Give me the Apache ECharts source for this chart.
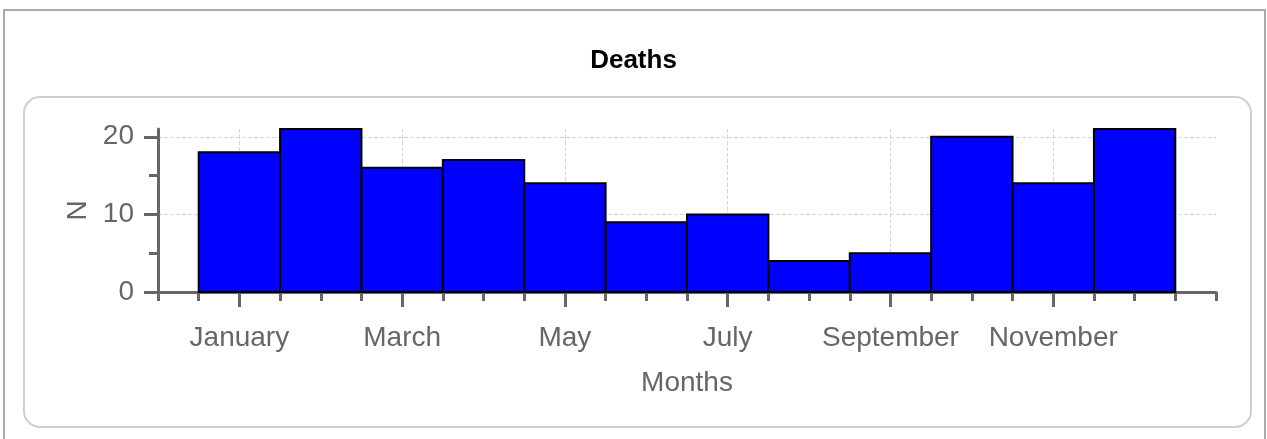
<!DOCTYPE html>
<html>
<head>
<meta charset="utf-8">
<style>
  html, body { margin: 0; padding: 0; background: #fff; }
  #chart { width: 1267px; height: 439px; }
</style>
<script src="https://cdn.jsdelivr.net/npm/echarts@6/dist/echarts.min.js"></script>
</head>
<body>
<div id="chart"></div>
<script>
// data
var months = ["January", "February", "March", "April", "May", "June",
  "July", "August", "September", "October", "November", "December"];
var deaths = [18, 21, 16, 17, 14, 9, 10, 4, 5, 20, 14, 21];
var xLabelTicks = [1, 3, 5, 7, 9, 11];
var yMinorTicks = [0, 5, 10, 15, 20];
var yMajorTicks = [0, 10, 20];

(function() {
  var myChart = echarts.init(document.getElementById("chart"));
  var font = "Liberation Sans, Arial, sans-serif";
  var grey = "#666";

  var barData = [];
  for (var i = 0; i < deaths.length; i++) {
    barData.push([i + 1, deaths[i]]);
  }

  var option = {
    animation: false,
    title: {
      text: "Deaths",
      left: "center",
      top: 43,
      textStyle: { fontFamily: font, fontWeight: "bold", fontSize: 26, color: "#000" }
    },
    graphic: [
      // outer frame
      {
        type: "rect",
        shape: { x: 4, y: 10, width: 1261, height: 460 },
        style: { fill: null, stroke: "#aaa", lineWidth: 2 },
        silent: true
      },
      // inner rounded box
      {
        type: "rect",
        shape: { x: 24, y: 97, width: 1227, height: 330, r: 16 },
        style: { fill: null, stroke: "#cfcfcf", lineWidth: 2 },
        silent: true
      }
    ],
    grid: { left: 158, right: 51, top: 129, bottom: 147, containLabel: false },
    xAxis: [
      {
        type: "value",
        min: 0,
        max: 13,
        interval: 0.5,
        axisLine: { lineStyle: { color: grey, width: 3 } },
        axisTick: { length: 9, lineStyle: { color: grey, width: 3 } },
        axisLabel: { show: false },
        splitLine: { show: false }
      },
      {
        type: "value",
        min: 0,
        max: 13,
        position: "bottom",
        name: "Months",
        nameLocation: "middle",
        nameGap: 77,
        nameTextStyle: { fontFamily: font, fontSize: 28, color: grey },
        axisLine: { show: false },
        axisTick: { customValues: xLabelTicks, length: 15, lineStyle: { color: grey, width: 3 } },
        axisLabel: {
          customValues: xLabelTicks,
          margin: 32,
          fontFamily: font,
          fontSize: 28,
          color: grey,
          formatter: function(v) { return months[v - 1]; }
        },
        splitLine: { show: true, lineStyle: { color: "#d6d6d6", type: "dashed", width: 1 } }
      }
    ],
    yAxis: [
      {
        type: "value",
        min: 0,
        max: 21,
        interval: 5,
        axisLine: { show: true, lineStyle: { color: grey, width: 3 } },
        axisTick: { show: true, customValues: yMinorTicks, length: 9, lineStyle: { color: grey, width: 3 } },
        axisLabel: { show: false },
        splitLine: { show: false }
      },
      {
        type: "value",
        min: 0,
        max: 21,
        position: "left",
        name: "N",
        nameLocation: "middle",
        nameGap: 66,
        nameTextStyle: { fontFamily: font, fontSize: 28, color: grey },
        axisLine: { show: false },
        axisTick: { show: true, customValues: yMajorTicks, length: 14, lineStyle: { color: grey, width: 3 } },
        axisLabel: { customValues: yMajorTicks, margin: 24, fontFamily: font, fontSize: 28, color: grey },
        splitLine: { show: true, lineStyle: { color: "#d6d6d6", type: "dashed", width: 1 } }
      }
    ],
    series: [
      {
        name: "Deaths",
        type: "custom",
        xAxisIndex: 0,
        yAxisIndex: 0,
        z: 3,
        renderItem: function(params, api) {
          var x = api.value(0);
          var y = api.value(1);
          var p0 = api.coord([x - 0.5, y]);
          var p1 = api.coord([x + 0.5, 0]);
          return {
            type: "rect",
            shape: { x: p0[0], y: p0[1], width: p1[0] - p0[0], height: p1[1] - p0[1] },
            style: { fill: "#0000ff", stroke: "#000", lineWidth: 2 }
          };
        },
        data: barData
      }
    ]
  };

  myChart.setOption(option);
})();
</script>
</body>
</html>
